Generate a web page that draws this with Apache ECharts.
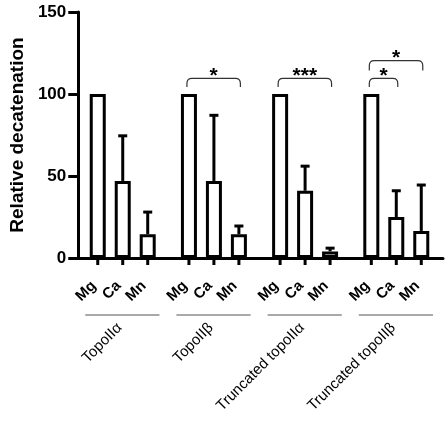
<!DOCTYPE html>
<html><head><meta charset="utf-8">
<script src="https://cdn.jsdelivr.net/npm/echarts@6/dist/echarts.min.js"></script>
<style>html,body{margin:0;padding:0;background:#fff}#c{width:448px;height:425px}</style>
</head><body><div id="c"></div>
<script>
const groups = ['TopoIIα', 'TopoIIβ', 'Truncated topoIIα', 'Truncated topoIIβ'];
const metals = ['Mg', 'Ca', 'Mn'];
const mgValues = [100, 100, 100, 100];
const caValues = [47, 47, 41, 25];
const mnValues = [14.5, 14.5, 4, 16.5];
const mgErr = [0, 0, 0, 0];
const caErr = [27.5, 40, 15, 16];
const mnErr = [13.5, 5, 2, 28];
const yTicks = [0, 50, 100, 150];
// significance brackets
const sigGroup = [1, 2, 3, 3];
const sigFrom = [0, 0, 0, 0];
const sigTo = [2, 2, 1, 2];
const sigLevel = [0, 0, 0, 1];
const sigLabel = ['*', '***', '*', '*'];

const FF = "'Liberation Sans', Arial, sans-serif";
const GROUP_STEP = 3.65, OFFSET = 0.78;
const xPos = (g, i) => OFFSET + g * GROUP_STEP + i;
const valueSets = [mgValues, caValues, mnValues];
const errSets = [mgErr, caErr, mnErr];

const barData = [], errData = [], tickData = [];
groups.forEach((g, gi) => metals.forEach((m, mi) => {
  const x = xPos(gi, mi);
  barData.push([x, valueSets[mi][gi]]);
  errData.push([x, valueSets[mi][gi], valueSets[mi][gi] + errSets[mi][gi]]);
  tickData.push([x, 0, m]);
}));
const groupData = groups.map((g, gi) => [xPos(gi, 0), xPos(gi, 2), xPos(gi, 1), g]);
const sigData = sigGroup.map((g, k) => [xPos(g, sigFrom[k]), xPos(g, sigTo[k]), sigLevel[k], sigLabel[k]]);

const chart = echarts.init(document.getElementById('c'), null, {renderer: 'canvas'});
chart.setOption({
  animation: false,
  grid: {left: 71, right: 5, top: 12, bottom: 167},
  xAxis: {type: 'value', min: 0, max: 14.6, axisLine: {lineStyle: {color: '#000', width: 3}},
    axisTick: {show: false}, axisLabel: {show: false}, splitLine: {show: false}},
  yAxis: {type: 'value', min: yTicks[0], max: yTicks[yTicks.length - 1], interval: 50,
    name: 'Relative decatenation', nameLocation: 'middle', nameGap: 47,
    nameTextStyle: {fontFamily: FF, fontWeight: 'bold', fontSize: 19, color: '#000'},
    axisLine: {show: true, lineStyle: {color: '#000', width: 3}},
    axisTick: {show: true, length: 10, lineStyle: {color: '#000', width: 3}},
    axisLabel: {fontFamily: FF, fontWeight: 'bold', fontSize: 17, color: '#000', margin: 12},
    splitLine: {show: false}},
  series: [
    {type: 'bar', data: barData, barWidth: 16, itemStyle: {color: '#fff', borderColor: '#000', borderWidth: 3}, z: 3},
    {type: 'custom', data: errData, z: 2, renderItem: (p, api) => {
      const b = api.coord([api.value(0), api.value(1)]);
      const t = api.coord([api.value(0), api.value(2)]);
      if (api.value(2) - api.value(1) < 0.5) return null;
      return {type: 'group', children: [
        {type: 'line', shape: {x1: b[0], y1: b[1], x2: t[0], y2: t[1]}, style: {stroke: '#000', lineWidth: 3}},
        {type: 'line', shape: {x1: t[0] - 4.5, y1: t[1], x2: t[0] + 4.5, y2: t[1]}, style: {stroke: '#000', lineWidth: 3}}
      ]};
    }},
    {type: 'custom', data: tickData, z: 4, clip: false, renderItem: (p, api) => {
      const c = api.coord([api.value(0), 0]);
      return {type: 'group', children: [
        {type: 'line', shape: {x1: c[0], y1: c[1], x2: c[0], y2: c[1] + 7}, style: {stroke: '#000', lineWidth: 3}},
        {type: 'text', x: c[0] - 4, y: c[1] + 25.5, rotation: Math.PI / 4,
          style: {text: api.value(2), align: 'right', verticalAlign: 'middle', fontFamily: FF, fontWeight: 'bold', fontSize: 15, fill: '#000'}}
      ]};
    }},
    {type: 'custom', data: groupData, z: 4, clip: false, renderItem: (p, api) => {
      const a = api.coord([api.value(0) - 0.5, 0]);
      const b = api.coord([api.value(1) + 0.47, 0]);
      const c = api.coord([api.value(2), 0]);
      return {type: 'group', children: [
        {type: 'line', shape: {x1: a[0], y1: a[1] + 57, x2: b[0], y2: b[1] + 57}, style: {stroke: '#555', lineWidth: 1.2}},
        {type: 'text', x: c[0] - 3, y: c[1] + 67.5, rotation: Math.PI / 4,
          style: {text: api.value(3), align: 'right', verticalAlign: 'middle', fontFamily: FF, fontSize: 15, fill: '#000'}}
      ]};
    }},
    {type: 'custom', data: sigData, z: 4, clip: false, renderItem: (p, api) => {
      const hi = api.value(2) === 1;
      const topV = hi ? 120.4 : 109.5;
      const dropV = hi ? 114.3 : 104.2;
      const a = api.coord([api.value(0) - 0.08, topV]);
      const b = api.coord([api.value(1) + 0.06, topV]);
      const d = api.coord([api.value(0), dropV]);
      const r = 5;
      const path = `M${a[0]},${d[1]} L${a[0]},${a[1] + r} Q${a[0]},${a[1]} ${a[0] + r},${a[1]} L${b[0] - r},${b[1]} Q${b[0]},${b[1]} ${b[0]},${b[1] + r} L${b[0]},${d[1]}`;
      return {type: 'group', children: [
        {type: 'path', shape: {pathData: path}, style: {stroke: '#333', lineWidth: 1.2, fill: null}},
        {type: 'text', x: (a[0] + b[0]) / 2, y: a[1] - 2, style: {text: api.value(3), align: 'center', verticalAlign: 'middle', fontFamily: FF, fontWeight: 'bold', fontSize: 21, fill: '#000'}}
      ]};
    }}
  ]
});
</script></body></html>
